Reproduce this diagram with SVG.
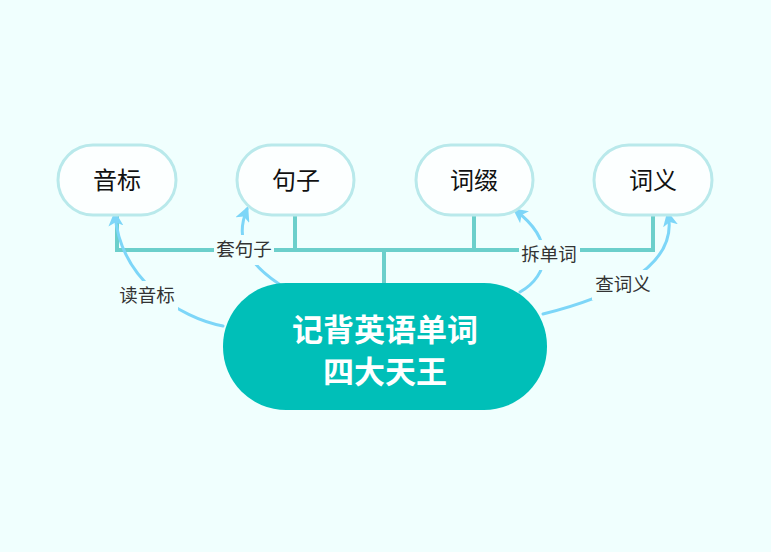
<svg xmlns="http://www.w3.org/2000/svg" width="771" height="552" viewBox="0 0 771 552">
<defs>
<style>
.bg{fill:#F0FFFE}
.node rect{fill:#FCFFFF;stroke:#B9E9EB;stroke-width:3}
.node text{font-family:"Noto Sans CJK SC","Noto Sans",sans-serif;font-size:24px;fill:#111;text-anchor:middle}
.tree{fill:none;stroke:#6CCFCB;stroke-width:4;stroke-linejoin:miter}
.rel{fill:none;stroke:#7DD6F8;stroke-width:3;stroke-linecap:round}
.lbl rect{fill:#F0FFFE}
.lbl text{font-family:"Noto Sans CJK SC","Noto Sans",sans-serif;font-size:18.5px;fill:#333;text-anchor:middle}
.main rect{fill:#00BFB8}
.main text{font-family:"Noto Sans CJK SC","Noto Sans",sans-serif;font-size:31px;font-weight:bold;fill:#FFFFFF;text-anchor:middle}
</style>
<marker id="arr" viewBox="0 0 10 10" refX="8" refY="5" markerWidth="5" markerHeight="5" orient="auto" markerUnits="strokeWidth">
<path d="M0,0 L10,5 L0,10 L2.5,5 Z" fill="#7DD6F8"/>
</marker>
</defs>
<rect class="bg" x="0" y="0" width="771" height="552"/>
<g id="connectors">
<path class="tree" d="M384,284 V250 M117,216 V250 H653 V216 M295,216 V250 M474,216 V250"/>
<path class="rel" d="M223,326 C180,318 120,280 115,214" marker-end="url(#arr)"/>
<path class="rel" d="M279,284 C255,268 232,245 247,209" marker-end="url(#arr)"/>
<path class="rel" d="M520,292 C550,275 555,240 515,210" marker-end="url(#arr)"/>
<path class="rel" d="M543,314 C600,300 680,270 668,214" marker-end="url(#arr)"/>
<g class="lbl">
<rect x="116" y="281" width="62" height="30"/>
<text x="147" y="302">读音标</text>
<rect x="214" y="235" width="60" height="30"/>
<text x="244" y="256">套句子</text>
<rect x="519" y="240" width="61" height="30"/>
<text x="549" y="261">拆单词</text>
<rect x="592" y="270" width="62" height="30"/>
<text x="623" y="291">查词义</text>
</g>
</g>
<g id="node-yinbiao" class="node">
<rect x="58" y="145" width="118" height="70" rx="35"/>
<text x="117" y="189">音标</text>
</g>
<g id="node-juzi" class="node">
<rect x="237" y="145" width="117" height="70" rx="35"/>
<text x="296" y="189">句子</text>
</g>
<g id="node-cizhui" class="node">
<rect x="416" y="145" width="117" height="70" rx="35"/>
<text x="474" y="189">词缀</text>
</g>
<g id="node-ciyi" class="node">
<rect x="594" y="145" width="118" height="70" rx="35"/>
<text x="653" y="189">词义</text>
</g>
<g id="node-main" class="main">
<rect x="223" y="283" width="324" height="127" rx="63"/>
<text x="385" y="341">记背英语单词</text>
<text x="385" y="383">四大天王</text>
</g>
</svg>
